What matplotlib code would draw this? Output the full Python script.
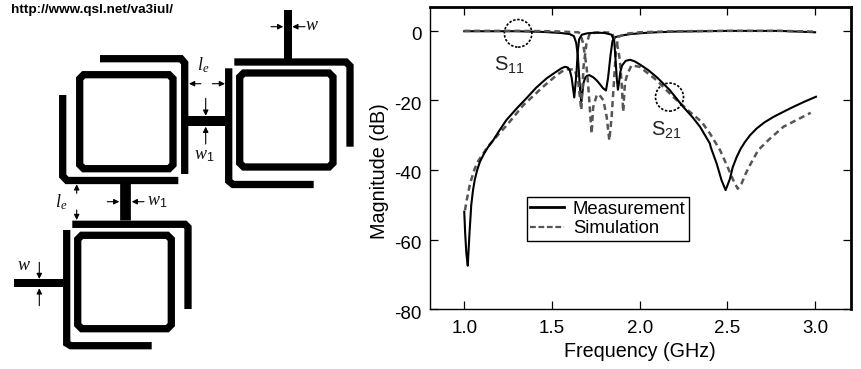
import matplotlib
matplotlib.use('Agg')
import matplotlib.pyplot as plt
from matplotlib.patches import Ellipse, Polygon
from matplotlib.lines import Line2D
from matplotlib.transforms import ScaledTranslation

plt.rcParams['font.family'] = ['Liberation Sans', 'DejaVu Sans']
plt.rcParams['mathtext.default'] = 'regular'
plt.rcParams['axes.unicode_minus'] = False

W, H = 861, 369

# measured curves
s11_meas_x = [1.0, 1.15, 1.3, 1.45, 1.55, 1.6, 1.625, 1.638, 1.647, 1.655, 1.662, 1.667, 1.672, 1.68, 1.69, 1.7, 1.713, 1.735, 1.755,
              1.775, 1.79, 1.808, 1.82, 1.834, 1.845, 1.86, 1.9, 1.95, 2.05, 2.2, 2.5, 2.8, 3.0]
s11_meas_y = [-0.2, -0.2, -0.2, -0.4, -0.7, -1.0, -1.6, -3.5, -7, -13, -18, -20.5, -18.5, -15, -13.5, -13, -12.8, -13.4, -14.3,
              -15.5, -16.5, -17.2, -13.5, -7, -3, -1.9, -1.4, -1.0, -0.6, -0.3, -0.1, -0.1, -0.5]
s21_meas_x = [1.0, 1.005, 1.012, 1.02, 1.03, 1.04, 1.05, 1.06, 1.075, 1.09, 1.11, 1.135, 1.165, 1.2, 1.24, 1.3, 1.355, 1.41, 1.47, 1.525,
              1.555, 1.575, 1.59, 1.602, 1.612, 1.62, 1.627, 1.634, 1.64, 1.647, 1.655, 1.67, 1.7, 1.75, 1.8, 1.84, 1.855, 1.862, 1.87, 1.876,
              1.882, 1.89, 1.9, 1.92, 1.945, 1.97, 2.0, 2.05, 2.1, 2.17, 2.25, 2.3, 2.344, 2.4, 2.406, 2.439, 2.467, 2.49, 2.515,
              2.53, 2.553, 2.575, 2.6, 2.63, 2.667, 2.71, 2.762, 2.82, 2.876, 2.94, 3.005]
s21_meas_y = [-52, -58, -64, -67.5, -58, -50, -45.8, -42.8, -39.8, -37.6, -35.6, -33.5, -31.5, -28.7, -25.7, -22.3, -19.4, -16.4, -13.7, -11.8,
              -10.8, -10.4, -10.6, -11.5, -13.5, -16.5, -19.2, -15.5, -12, -6, -2.5, -1.2, -0.8, -0.6, -0.7, -1.2, -3, -8, -14, -17,
              -15, -11.8, -10, -8.7, -8.4, -8.8, -9.7, -11.4, -13.5, -17, -22, -24.8, -27.6, -32.4, -33.6, -38.2, -43, -45.8, -42.5,
              -39.3, -36.3, -34, -32, -30, -28.1, -26.4, -24.8, -23.3, -21.9, -20.4, -19]

# simulated curves
s11_sim_x = [1.0, 1.3, 1.5, 1.65, 1.66, 1.678, 1.697, 1.707, 1.726, 1.735, 1.755, 1.768, 1.793, 1.812, 1.827, 1.84,
             1.853, 1.865, 1.878, 1.925, 2.0, 2.2, 2.5, 2.8, 3.0]
s11_sim_y = [-0.1, -0.1, -0.2, -0.5, -0.8, -3.7, -10.4, -16, -29.6, -22, -18.6, -18.3, -20, -24.8, -31.5, -24.8,
             -15, -5.6, -1.8, -0.9, -0.5, -0.2, -0.1, -0.1, -0.3]
s21_sim_x = [1.004, 1.014, 1.033, 1.06, 1.08, 1.108, 1.135, 1.165, 1.2, 1.242, 1.337, 1.45, 1.527, 1.575, 1.63, 1.65, 1.667, 1.68, 1.697,
             1.716, 1.78, 1.84, 1.87, 1.878, 1.887, 1.897, 1.906, 1.916, 1.93, 1.953, 2.0, 2.095, 2.19, 2.285, 2.353,
             2.4, 2.458, 2.505, 2.534, 2.559, 2.581, 2.605, 2.629, 2.676, 2.743, 2.82, 2.913, 2.975]
s21_sim_y = [-51.6, -48.7, -43.9, -39.6, -37.4, -35.3, -33.3, -31.5, -29.5, -27.2, -21.4, -16.1, -12.8, -11.1, -11.2, -14.8, -22.8, -10.4, -3.7,
             -0.8, -0.5, -0.6, -3.7, -5.6, -8.5, -15, -23.3, -15, -12.5, -10, -10.4, -14.2, -19, -23.3, -26.2,
             -29.5, -34.3, -39.6, -43, -45.4, -43.9, -41, -38.6, -34.3, -31, -27.6, -25.2, -23.6]

xticks = [1.0, 1.5, 2.0, 2.5, 3.0]
yticks = [0, -20, -40, -60, -80]

# layout of the filter drawing, in pixels
ring_boxes = [(79.7, 74.7, 173, 168.7), (239.7, 73, 333, 167), (77.7, 235.3, 171.3, 328.7)]
ring_cut = 4
feeds = [
    [(100, 58.7), (181, 58.7), (184.7, 63), (184.7, 174)],
    [(62.7, 95), (62.7, 176), (67, 180.5), (178.3, 180.5)],
    [(234.3, 62), (346, 62), (350, 66), (350, 146.7)],
    [(228.7, 68.3), (228.7, 181), (233, 184.5), (313.7, 184.5)],
    [(72.3, 224.3), (185, 224.3), (188, 227.3), (188, 309)],
    [(66.7, 230), (66.7, 343.3), (70.7, 345.7), (151.7, 345.7)],
]
stubs = [
    ((287.7, 10), (287.7, 62), 8),
    ((14.3, 283.3), (63, 283.3), 8),
    ((188, 121), (225, 121), 10),
    ((125, 183), (125, 220), 10.7),
]
arrows = [
    ((271, 26.7), (283.3, 26.7)), ((305, 26.7), (292.3, 26.7)),
    ((201, 83.7), (189, 83.7)), ((212.3, 83.7), (225, 83.7)),
    ((205.7, 98.3), (205.7, 115.7)), ((205.7, 144), (205.7, 126.7)),
    ((76.7, 193.3), (76.7, 184.3)), ((76.7, 210), (76.7, 220)),
    ((107.3, 201.7), (119.3, 201.7)), ((144, 201.7), (131.7, 201.7)),
    ((39.3, 262.3), (39.3, 279)), ((39.3, 305.7), (39.3, 288.3)),
]
dim_labels = [
    (311.7, 25, '$\\mathit{w}$'), (203, 65, '$\\mathit{l_e}$'), (204, 155, '$\\mathit{w_1}$'),
    (61, 202, '$\\mathit{l_e}$'), (157, 202, '$\\mathit{w_1}$'), (24, 266, '$\\mathit{w}$'),
]

fig = plt.figure(figsize=(W / 100, H / 100), dpi=100)

# drawing on the left, y going down like the picture
sk = fig.add_axes([0, 0, 1, 1])
sk.set_xlim(0, W)
sk.set_ylim(H, 0)
sk.axis('off')

px = 0.72  # one pixel in points
for x0, y0, x1, y1 in ring_boxes:
    c = ring_cut
    pts = [(x0 + c, y0), (x1 - c, y0), (x1, y0 + c), (x1, y1 - c), (x1 - c, y1), (x0 + c, y1), (x0, y1 - c), (x0, y0 + c)]
    sk.add_patch(Polygon(pts, closed=True, fill=False, ec='black', lw=7.3 * px, joinstyle='miter'))
for f in feeds:
    sk.plot([p[0] for p in f], [p[1] for p in f], color='black', lw=7.3 * px, solid_capstyle='butt', solid_joinstyle='miter')
for a, b, w in stubs:
    sk.plot([a[0], b[0]], [a[1], b[1]], color='black', lw=w * px, solid_capstyle='butt')
for a, b in arrows:
    sk.annotate('', xy=b, xytext=a, arrowprops=dict(arrowstyle='-|>,head_width=0.16,head_length=0.32', color='black', lw=0.8,
                                                    shrinkA=0, shrinkB=0))
plt.rcParams['mathtext.fontset'] = 'custom'
plt.rcParams['mathtext.it'] = 'Liberation Serif:italic'
plt.rcParams['mathtext.rm'] = 'Liberation Sans'
for x, y, s in dim_labels:
    sk.text(x, y, s, fontsize=13, ha='center', va='center', color='#111111')
sk.text(11, 10, 'http://www.qsl.net/va3iul/', fontsize=9.7, fontweight='bold', ha='left', va='center')

# the measured response
ax = fig.add_axes([429.7 / W, 1 - 309.3 / H, 421 / W, 302.8 / H])
ax.patch.set_alpha(0)
ax.plot(s11_meas_x, s11_meas_y, color='black', lw=1.5)
ax.plot(s11_sim_x, s11_sim_y, color='#555555', lw=1.8, ls=(0, (2.4, 1.6)))
ax.plot(s21_sim_x, s21_sim_y, color='#555555', lw=1.8, ls=(0, (2.4, 1.6)))
ax.plot(s21_meas_x, s21_meas_y, color='black', lw=1.5)

ax.set_xlim(0.803, 3.203)
ax.set_ylim(-80, 6.9)
ax.set_xticks(xticks)
ax.set_xticklabels(['%.1f' % t for t in xticks], fontsize=13.5)
ax.set_yticks(yticks)
ax.set_yticklabels([str(t) for t in yticks], fontsize=13.5)
ax.tick_params(axis='both', direction='in', top=True, right=True, length=6, width=0.9)
ax.tick_params(axis='x', pad=8)
ax.tick_params(axis='y', pad=6)
# y labels sit a little under their ticks in the original
shift = ScaledTranslation(0, -3 / 100, fig.dpi_scale_trans)
for lab in ax.get_yticklabels():
    lab.set_transform(lab.get_transform() + shift)
ax.set_xlabel('Frequency (GHz)', fontsize=14.2, labelpad=3)
ax.set_ylabel('Magnitude (dB)', fontsize=14.2)
ax.yaxis.set_label_coords(-0.097, 0.455)
ax.spines['top'].set_linewidth(2)
ax.spines['right'].set_linewidth(2)
ax.spines['left'].set_linewidth(1)
ax.spines['bottom'].set_linewidth(1)

# dotted circles marking the two groups of curves
ax.add_patch(Ellipse((1.307, -0.8), 27.5 / 175.4, 27.5 / 3.48, fill=False, ec='black', ls=(0, (1.5, 1)), lw=1.2))
ax.add_patch(Ellipse((2.17, -19.1), 28 / 175.4, 28 / 3.48, fill=False, ec='black', ls=(0, (1.5, 1)), lw=1.2))
ax.text(1.17, -10, 'S$_{11}$', fontsize=14.5, ha='left', va='center', color='#222222')
ax.text(2.065, -28.5, 'S$_{21}$', fontsize=14.5, ha='left', va='center', color='#222222')

handles = [Line2D([], [], color='black', lw=2), Line2D([], [], color='#555555', lw=1.6, ls=(0, (2.6, 1.2)))]
leg = ax.legend(handles, ['Measurement', 'Simulation'], fontsize=13.3, loc='lower left',
                bbox_to_anchor=((526.7 - 429.7) / 421, (309.3 - 241) / 302.8), borderaxespad=0, fancybox=False,
                framealpha=1, edgecolor='black', handlelength=1.8, handletextpad=0.5, borderpad=0.2, labelspacing=0.15)
leg.get_frame().set_linewidth(1)

fig.savefig('out.png', dpi=100)
